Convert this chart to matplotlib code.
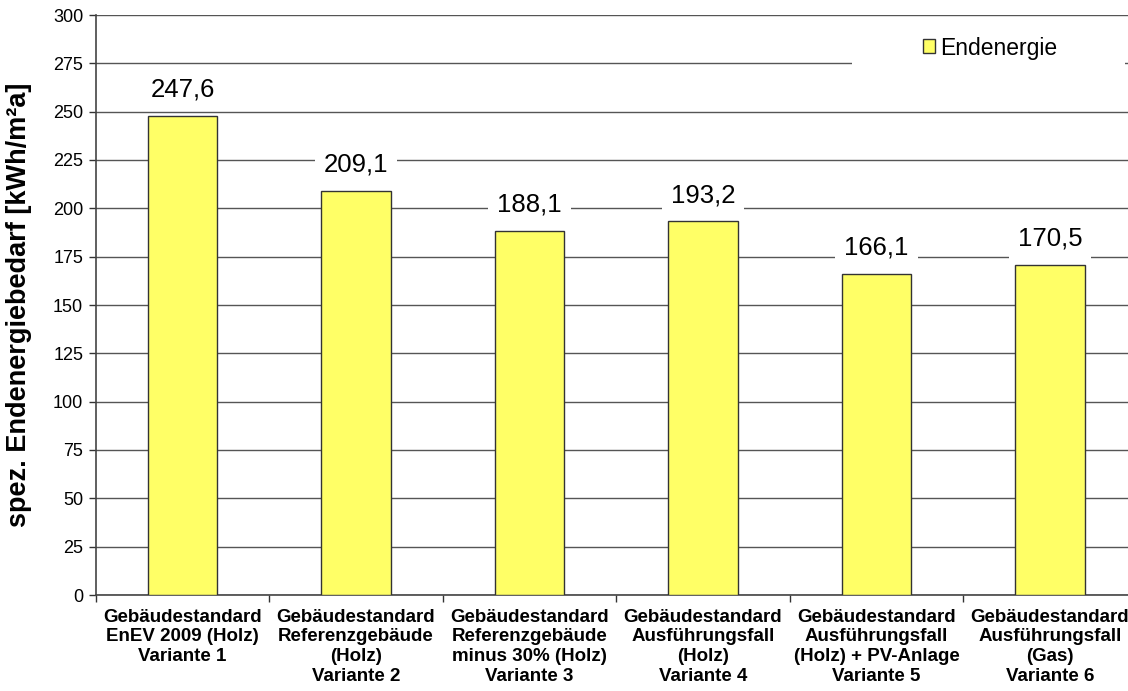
import matplotlib
matplotlib.use("Agg")
import matplotlib.pyplot as plt
from matplotlib.patches import Patch, Rectangle

categories = [
    "Gebäudestandard\nEnEV 2009 (Holz)\nVariante 1",
    "Gebäudestandard\nReferenzgebäude\n(Holz)\nVariante 2",
    "Gebäudestandard\nReferenzgebäude\nminus 30% (Holz)\nVariante 3",
    "Gebäudestandard\nAusführungsfall\n(Holz)\nVariante 4",
    "Gebäudestandard\nAusführungsfall\n(Holz) + PV-Anlage\nVariante 5",
    "Gebäudestandard\nAusführungsfall\n(Gas)\nVariante 6",
]
endenergie = [247.6, 209.1, 188.1, 193.2, 166.1, 170.5]
y_ticks = list(range(0, 301, 25))
series_name = "Endenergie"
y_label = "spez. Endenergiebedarf [kWh/m²a]"

plt.rcParams["font.family"] = ["Liberation Sans", "DejaVu Sans"]

W, H = 1128, 691
fig = plt.figure(figsize=(W / 100, H / 100), dpi=100)
left, right = 95.7, 95.7 + 6 * 173.5
top, bottom = 15, 595
ax = fig.add_axes([left / W, 1 - bottom / H, (right - left) / W, (bottom - top) / H])

bar_color = "#FFFF66"
x = list(range(len(categories)))
ax.bar(x, endenergie, width=0.4, color=bar_color, edgecolor="#333333",
       linewidth=1.0, zorder=3)

ax.set_xlim(-0.5, len(categories) - 0.5)
ax.set_ylim(0, 300)
ax.set_yticks(y_ticks)
ax.set_yticklabels([str(v) for v in y_ticks], fontsize=13)
ax.yaxis.grid(True, color="#555555", linewidth=1.0, zorder=0)
ax.set_axisbelow(True)

# category boundaries as ticks, labels centred under each bar
ax.set_xticks([i - 0.5 for i in range(len(categories) + 1)])
ax.set_xticklabels([])
ax.set_xticks(x, minor=True)
ax.set_xticklabels(categories, minor=True, fontsize=13.5, fontweight="bold",
                   linespacing=1.2, va="top")
ax.tick_params(axis="x", which="minor", length=0, pad=10)
ax.tick_params(axis="x", which="major", length=5, width=1, color="#333333",
               direction="out")
ax.tick_params(axis="y", length=5, width=1, color="#333333", pad=4)

for side in ("top", "right"):
    ax.spines[side].set_visible(False)
for side in ("left", "bottom"):
    ax.spines[side].set_color("#444444")
    ax.spines[side].set_linewidth(1.2)

ax.set_ylabel(y_label, fontsize=19.5, fontweight="bold", va="center")
ax.yaxis.set_label_coords((19 - left) / (right - left), 0.5)

for xi, v in zip(x, endenergie):
    ax.annotate(f"{v:.1f}".replace(".", ","), (xi, v), xytext=(0, 19),
                textcoords="offset points", ha="center", va="center",
                fontsize=18.5, zorder=4,
                bbox=dict(boxstyle="square,pad=0.35", fc="white", ec="none"))

# white backing area of the legend
ax.add_patch(Rectangle((852 / W, 1 - 80 / H), (1125 - 852) / W, 55 / H,
                       transform=fig.transFigure, facecolor="white",
                       edgecolor="none", zorder=4, clip_on=False))

leg = ax.legend(handles=[Patch(facecolor=bar_color, edgecolor="#333333",
                               label=series_name)],
                loc="center left", bbox_to_anchor=(918 / W, 1 - 48 / H),
                bbox_transform=fig.transFigure, frameon=False, fontsize=16.5,
                handlelength=0.55, handleheight=0.55, handletextpad=0.2,
                borderpad=0.2, borderaxespad=0)
leg.set_zorder(5)

fig.savefig("out.png", dpi=100)
